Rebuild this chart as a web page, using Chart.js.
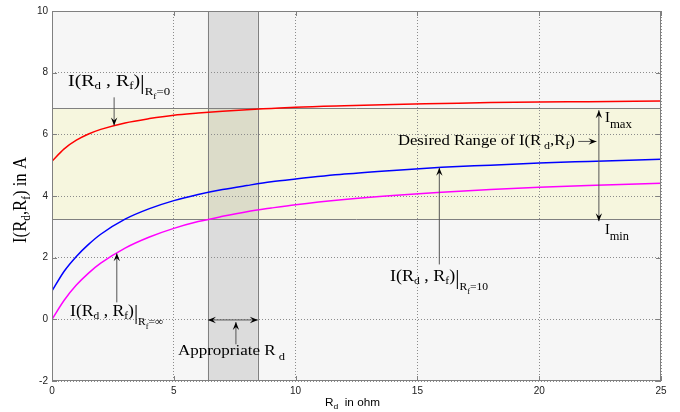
<!DOCTYPE html>
<html>
<head>
<meta charset="utf-8">
<script src="https://cdn.jsdelivr.net/npm/chart.js@4.4.0/dist/chart.umd.min.js"></script>
<style>
  html, body { margin: 0; padding: 0; background: #fff; }
  canvas { display: block; }
</style>
</head>
<body>
<canvas id="chart" width="680" height="412"></canvas>
<script>
// Rd in ohm and the current I(Rd, Rf) in A for three values of Rf
const rd = [0, 0.5, 1, 1.5, 2, 3, 4, 5, 6, 7, 8, 9, 10, 12, 14, 16, 18, 20, 22, 25];
const iRf0 = [5.13, 5.53, 5.81, 6.01, 6.16, 6.37, 6.51, 6.62, 6.69, 6.75, 6.80, 6.84, 6.88, 6.93, 6.97, 7.00, 7.03, 7.05, 7.06, 7.08];
const iRf10 = [0.92, 1.56, 2.04, 2.43, 2.76, 3.25, 3.59, 3.85, 4.05, 4.21, 4.34, 4.46, 4.55, 4.71, 4.83, 4.93, 5.00, 5.07, 5.12, 5.19];
const iRfInf = [0.00, 0.62, 1.11, 1.50, 1.82, 2.31, 2.67, 2.95, 3.17, 3.34, 3.49, 3.61, 3.72, 3.89, 4.02, 4.12, 4.21, 4.28, 4.34, 4.41];

const xTicks = [0, 5, 10, 15, 20, 25];
const yTicks = [-2, 0, 2, 4, 6, 8, 10];

// desired current range [Imin, Imax] and the matching range of Rd
const rangeI = [3.25, 6.85];
const rangeRd = [6.4, 8.45];

const SERIF = '"Liberation Serif", "Times New Roman", serif';
const SANS = '"Liberation Sans", Arial, sans-serif';

const pts = arr => rd.map((x, i) => ({ x: x, y: arr[i] }));

// text with subscripts, parts = [text, size, dy], stretched to the given width
function rich(ctx, parts, x, y, width, family) {
  let w = 0;
  parts.forEach(p => { ctx.font = p[1] + 'px ' + family; w += ctx.measureText(p[0]).width; });
  const sx = width ? width / w : 1;
  ctx.save();
  ctx.translate(x, y);
  ctx.scale(sx, 1);
  let cx = 0;
  parts.forEach(p => {
    ctx.font = p[1] + 'px ' + family;
    ctx.fillText(p[0], cx, p[2] || 0);
    cx += ctx.measureText(p[0]).width;
  });
  ctx.restore();
}

function head(ctx, x, y, ang) {
  const L = 8, H = 3.2, N = 5;
  ctx.save();
  ctx.translate(x, y);
  ctx.rotate(ang);
  ctx.beginPath();
  ctx.moveTo(0, 0);
  ctx.lineTo(-L, -H);
  ctx.lineTo(-N, 0);
  ctx.lineTo(-L, H);
  ctx.closePath();
  ctx.fill();
  ctx.restore();
}

function arrow(ctx, x1, y1, x2, y2, both) {
  ctx.beginPath();
  ctx.moveTo(x1, y1);
  ctx.lineTo(x2, y2);
  ctx.stroke();
  head(ctx, x2, y2, Math.atan2(y2 - y1, x2 - x1));
  if (both) head(ctx, x1, y1, Math.atan2(y1 - y2, x1 - x2));
}

const decor = {
  id: 'decor',
  beforeDraw(chart) {
    const { ctx, chartArea: a, scales: { x, y } } = chart;
    ctx.save();
    ctx.fillStyle = '#f6f6f6';
    ctx.fillRect(a.left, a.top, a.width, a.height);
    const yTop = y.getPixelForValue(rangeI[1]), yBot = y.getPixelForValue(rangeI[0]);
    ctx.fillStyle = '#f6f6de';
    ctx.fillRect(a.left, yTop, a.width, yBot - yTop);
    const xL = x.getPixelForValue(rangeRd[0]), xR = x.getPixelForValue(rangeRd[1]);
    ctx.fillStyle = 'rgba(120,120,120,0.2)';
    ctx.fillRect(xL, a.top, xR - xL, a.height);
    ctx.restore();
  },
  beforeDatasetsDraw(chart) {
    const { ctx, chartArea: a, scales: { x, y } } = chart;
    ctx.save();
    ctx.strokeStyle = '#808080';
    ctx.lineWidth = 1;
    ctx.beginPath();
    rangeI.forEach(v => {
      const py = Math.round(y.getPixelForValue(v)) + 0.5;
      ctx.moveTo(a.left, py); ctx.lineTo(a.right, py);
    });
    rangeRd.forEach(v => {
      const px = Math.round(x.getPixelForValue(v)) + 0.5;
      ctx.moveTo(px, a.top); ctx.lineTo(px, a.bottom);
    });
    ctx.stroke();
    ctx.restore();
  },
  afterDatasetsDraw(chart) {
    const { ctx, chartArea: a, scales: { x, y } } = chart;
    ctx.save();
    // axes box with inner ticks on all sides
    ctx.strokeStyle = '#808080';
    ctx.lineWidth = 1;
    ctx.strokeRect(a.left + 0.5, a.top + 0.5, a.width - 1, a.height - 1);
    ctx.beginPath();
    xTicks.forEach(v => {
      const px = Math.round(x.getPixelForValue(v)) + 0.5;
      ctx.moveTo(px, a.bottom); ctx.lineTo(px, a.bottom - 5);
      ctx.moveTo(px, a.top); ctx.lineTo(px, a.top + 5);
    });
    yTicks.forEach(v => {
      const py = Math.round(y.getPixelForValue(v)) + 0.5;
      ctx.moveTo(a.left, py); ctx.lineTo(a.left + 5, py);
      ctx.moveTo(a.right, py); ctx.lineTo(a.right - 5, py);
    });
    ctx.stroke();

    const X = v => x.getPixelForValue(v), Y = v => y.getPixelForValue(v);

    // arrows
    ctx.strokeStyle = '#555';
    ctx.fillStyle = '#000';
    ctx.lineWidth = 1;
    arrow(ctx, X(2.55), Y(7.2), X(2.55), Y(6.29));
    arrow(ctx, X(15.9), Y(1.78), X(15.9), Y(4.92));
    arrow(ctx, X(2.66), Y(0.55), X(2.66), Y(2.14));
    arrow(ctx, X(21.6), Y(5.77), X(22.35), Y(5.77));
    arrow(ctx, X(22.45), Y(rangeI[1]) + 2, X(22.45), Y(rangeI[0]) + 2, true);
    arrow(ctx, X(rangeRd[0]), Y(-0.02), X(rangeRd[1]), Y(-0.02), true);
    arrow(ctx, X(7.55), Y(-0.81), X(7.55), Y(-0.09));

    // annotation text
    ctx.fillStyle = '#000';
    ctx.textBaseline = 'alphabetic';
    ctx.textAlign = 'left';
    const lbl = end => [['I(R', 17, 0], ['d', 11, 3], [' , R', 17, 0], ['f', 11, 3], [')', 17, 0], ['|', 20, 3],
      ['R', 11, 9], ['f', 8, 13], [end, 11, 9]];
    rich(ctx, lbl('=0'), X(0.66), Y(7.56), 102, SERIF);
    rich(ctx, lbl('=10'), X(13.88), Y(1.25), 98, SERIF);
    rich(ctx, lbl('=\u221E'), X(0.74), Y(0.10), 93, SERIF);
    rich(ctx, [['Desired Range of I(R', 14, 0], [' d', 10, 4], [',', 14, 0], ['R', 14, 0], ['f', 10, 4], [')', 14, 0]],
      X(14.2), Y(5.65), 177, SERIF);
    rich(ctx, [['I', 15, 0], ['max', 13, 6]], X(22.7), Y(6.39), 27, SERIF);
    rich(ctx, [['I', 15, 0], ['min', 13, 6]], X(22.7), Y(2.76), 24, SERIF);
    rich(ctx, [['Appropriate R', 15, 0], [' d', 11, 5]], X(5.17), Y(-1.17), 107, SERIF);

    // axis titles
    ctx.save();
    ctx.translate(26, 243);
    ctx.rotate(-Math.PI / 2);
    rich(ctx, [['I(R', 18, 0], ['d', 12, 4], [',R', 18, 0], ['f', 12, 4], [') in A', 18, 0]], 0, 0, 86, SERIF);
    ctx.restore();
    rich(ctx, [['R', 11, 0], ['d', 8, 3], ['  in ohm', 11, 0]], 325, 406, 55, SANS);
    ctx.restore();
  }
};

const gridStyle = { color: '#8c8c8c', lineWidth: 1, drawTicks: false };
const tickStyle = { color: '#222', font: { family: SANS, size: 10 } };

new Chart(document.getElementById('chart'), {
  type: 'line',
  data: {
    datasets: [
      { data: pts(iRf0), borderColor: '#ff0000' },
      { data: pts(iRf10), borderColor: '#0000ff' },
      { data: pts(iRfInf), borderColor: '#ff00ff' }
    ]
  },
  options: {
    responsive: false,
    animation: false,
    devicePixelRatio: 1,
    layout: { padding: { top: 11, right: 19, left: 0, bottom: 0 } },
    plugins: { legend: { display: false }, tooltip: { enabled: false } },
    elements: {
      point: { radius: 0 },
      line: { borderWidth: 1.5, cubicInterpolationMode: 'monotone' }
    },
    scales: {
      x: {
        type: 'linear', min: 0, max: 25,
        afterBuildTicks: s => { s.ticks = xTicks.map(v => ({ value: v })); },
        afterFit: s => { s.height = 31; },
        grid: gridStyle,
        border: { display: false, dash: [1, 2] },
        ticks: Object.assign({ padding: 4 }, tickStyle)
      },
      y: {
        type: 'linear', min: -2, max: 10,
        afterBuildTicks: s => { s.ticks = yTicks.map(v => ({ value: v })); },
        afterFit: s => { s.width = 52; },
        grid: gridStyle,
        border: { display: false, dash: [1, 2] },
        ticks: Object.assign({ padding: 4 }, tickStyle)
      }
    }
  },
  plugins: [decor]
});
</script>
</body>
</html>
